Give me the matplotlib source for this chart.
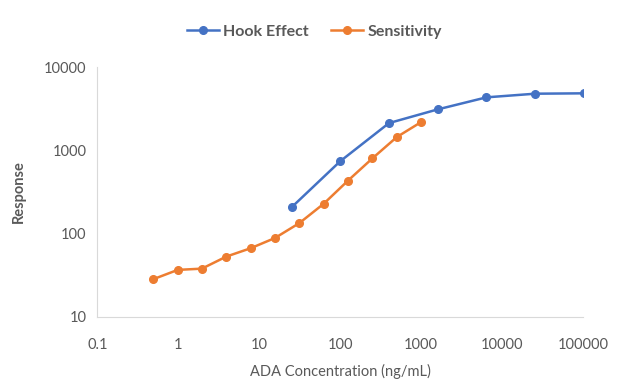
import matplotlib.pyplot as plt
from matplotlib.ticker import FixedLocator, FixedFormatter, NullLocator

# Hook effect: 4-fold dilutions
hook_conc = [25, 100, 400, 1600, 6400, 25600, 102400]
hook_resp = [207, 742, 2130, 3110, 4340, 4800, 4850]

# Sensitivity: 2-fold dilutions
sens_conc = [0.49, 0.98, 1.95, 3.9, 7.8, 15.6, 31.25, 62.5, 125, 250, 500, 1000]
sens_resp = [28.4, 36.7, 38.0, 53, 66.8, 88.7, 134, 229, 435, 804, 1448, 2193]

x_ticks = [0.1, 1, 10, 100, 1000, 10000, 100000]
x_labels = ["0.1", "1", "10", "100", "1000", "10000", "100000"]
y_ticks = [10, 100, 1000, 10000]
y_labels = ["10", "100", "1000", "10000"]

plt.rcParams['font.family'] = ['Lato', 'DejaVu Sans']
gray = '#595959'

fig = plt.figure(figsize=(6.17, 3.86), dpi=100)
ax = fig.add_axes([0.158, 0.179, 0.787, 0.647])

ax.plot(hook_conc, hook_resp, marker='o', color='#4472C4', lw=1.8, ms=5.5, label="Hook Effect")
ax.plot(sens_conc, sens_resp, marker='o', color='#ED7D31', lw=1.8, ms=5.5, label="Sensitivity")

ax.set_xscale('log')
ax.set_yscale('log')
ax.set_xlim(0.1, 100000)
ax.set_ylim(10, 10000)

ax.xaxis.set_major_locator(FixedLocator(x_ticks))
ax.xaxis.set_major_formatter(FixedFormatter(x_labels))
ax.xaxis.set_minor_locator(NullLocator())
ax.yaxis.set_major_locator(FixedLocator(y_ticks))
ax.yaxis.set_major_formatter(FixedFormatter(y_labels))
ax.yaxis.set_minor_locator(NullLocator())

ax.tick_params(length=0, labelsize=10.5, labelcolor=gray)
ax.tick_params(axis='x', pad=15)
ax.tick_params(axis='y', pad=8)
ax.spines['top'].set_visible(False)
ax.spines['right'].set_visible(False)
ax.spines['left'].set_color('#d9d9d9')
ax.spines['bottom'].set_color('#d9d9d9')

ax.set_xlabel("ADA Concentration (ng/mL)", fontsize=10.5, color=gray, labelpad=9)
ax.set_ylabel("Response", fontsize=10.5, color=gray, fontweight='bold', labelpad=13)

fig.legend(loc='center', bbox_to_anchor=(0.51, 0.918), ncol=2, frameon=False,
           prop={'size': 11.5, 'weight': 'bold'}, labelcolor=gray,
           handlelength=2.0, columnspacing=1.4, handletextpad=0.25)

fig.savefig("out.png", dpi=100)
plt.close(fig)
